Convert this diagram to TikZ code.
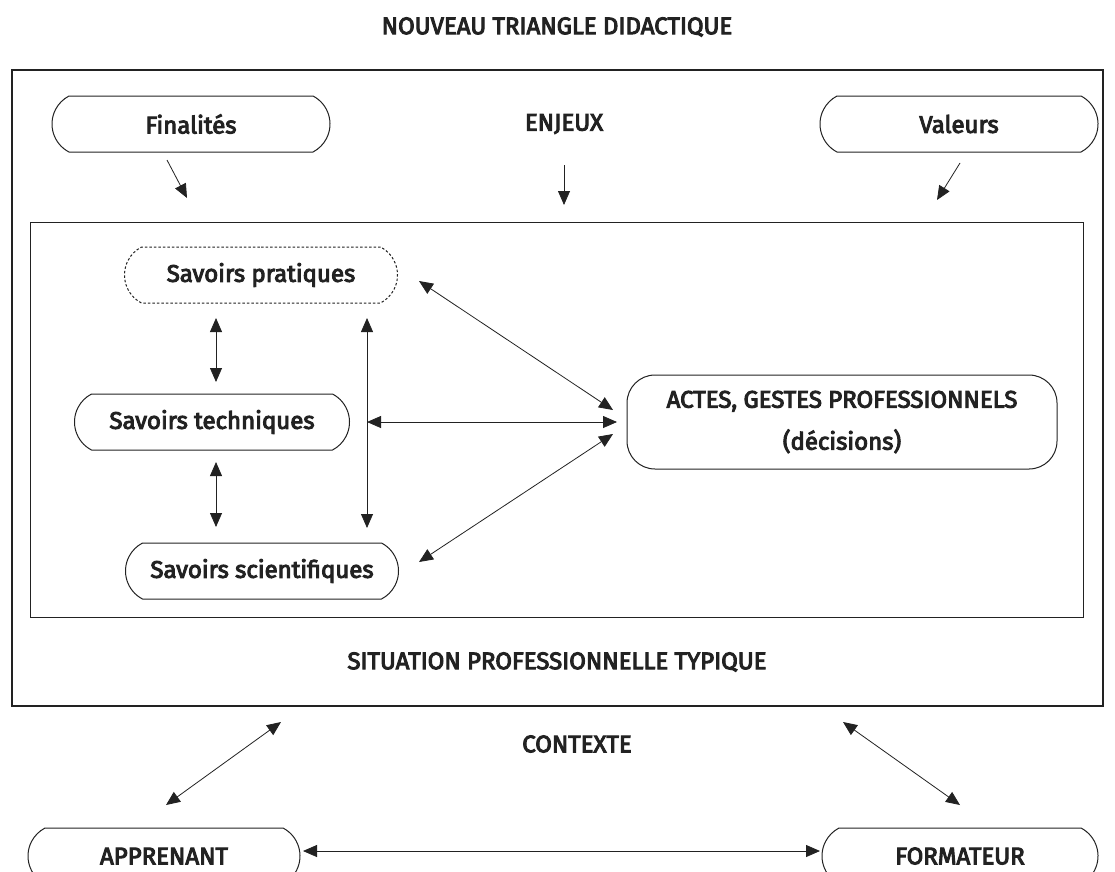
\documentclass[tikz,border=0pt]{standalone}
\usepackage{fontspec}
\setmainfont{Fira Sans}
\newfontfamily\medfont{Fira Sans}[FakeBold=4]
\usetikzlibrary{arrows.meta,shapes.misc}
\definecolor{ink}{HTML}{222222}
\tikzset{
  lbl/.style={text=ink,font=\fontsize{24}{27}\medfont},
  pill/.style={lbl,draw=ink,line width=1pt,rounded rectangle,rounded rectangle arc length=125,minimum height=56pt,inner xsep=0pt},
  dpill/.style={pill,dashed,dash pattern=on 2.5pt off 2pt},
  con/.style={draw=ink,line width=0.8pt},
  tip/.style={-{Triangle[length=14pt,width=12pt]}},
  dtip/.style={{Triangle[length=14pt,width=12pt]}-{Triangle[length=14pt,width=12pt]}},
}
\begin{document}
\begin{tikzpicture}[x=1pt,y=-1pt]
\useasboundingbox (0,0) rectangle (1115,871);
\fill[white] (0,0) rectangle (1115,871);
\node[lbl] (title) at (557,27) {NOUVEAU TRIANGLE DIDACTIQUE};
\draw[ink,line width=1.2pt] (12,70) rectangle (1103,706);
\draw[ink,line width=1pt] (30,222) rectangle (1083,617);
\node[pill,minimum width=278pt] (fin) at (191,124) {Finalités};
\node[lbl] (enj) at (564,124) {ENJEUX};
\node[pill,minimum width=278pt] (val) at (959,124) {Valeurs};
\coordinate (finA) at (167,160); \coordinate (finB) at (187,198);
\coordinate (enjA) at (564,165); \coordinate (enjB) at (564,205);
\coordinate (valA) at (960,163); \coordinate (valB) at (937,200);
\draw[con,tip] (finA) -- (finB);
\draw[con,tip] (enjA) -- (enjB);
\draw[con,tip] (valA) -- (valB);
\node[dpill,minimum width=273pt] (prat) at (261,275) {Savoirs pratiques};
\node[pill,minimum width=275pt] (tech) at (212,422) {Savoirs techniques};
\node[pill,minimum width=273pt] (sci) at (262,571) {Savoirs scientifiques};
\node[lbl,draw=ink,line width=1pt,rounded corners=28pt,minimum width=430pt,minimum height=94pt,align=center] (actes) at (842,422) {ACTES, GESTES PROFESSIONNELS\\[15pt](décisions)};
\coordinate (v1a) at (216,318); \coordinate (v1b) at (216,382);
\coordinate (v2a) at (216,462); \coordinate (v2b) at (216,527);
\coordinate (v3a) at (367,318); \coordinate (v3b) at (367,528);
\coordinate (hA) at (367,422); \coordinate (hB) at (617,422);
\coordinate (d1a) at (419,281); \coordinate (d1b) at (613,410);
\coordinate (d2a) at (419,562); \coordinate (d2b) at (613,434);
\draw[con,dtip] (v1a) -- (v1b);
\draw[con,dtip] (v2a) -- (v2b);
\draw[con,dtip] (v3a) -- (v3b);
\draw[con,dtip] (hA) -- (hB);
\draw[con,dtip] (d1a) -- (d1b);
\draw[con,dtip] (d2a) -- (d2b);
\node[lbl] (sit) at (557,662) {SITUATION PROFESSIONNELLE TYPIQUE};
\node[lbl] (ctx) at (577,744) {CONTEXTE};
\node[pill,minimum width=272pt] (app) at (164,856) {APPRENANT};
\node[pill,minimum width=276pt] (form) at (960,856) {FORMATEUR};
\coordinate (l1) at (166,805); \coordinate (l2) at (281,722);
\coordinate (r1) at (843,722); \coordinate (r2) at (960,805);
\coordinate (bA) at (303,851); \coordinate (bB) at (820,851);
\draw[con,dtip] (l1) -- (l2);
\draw[con,dtip] (r1) -- (r2);
\draw[con,dtip] (bA) -- (bB);
\end{tikzpicture}
\end{document}
